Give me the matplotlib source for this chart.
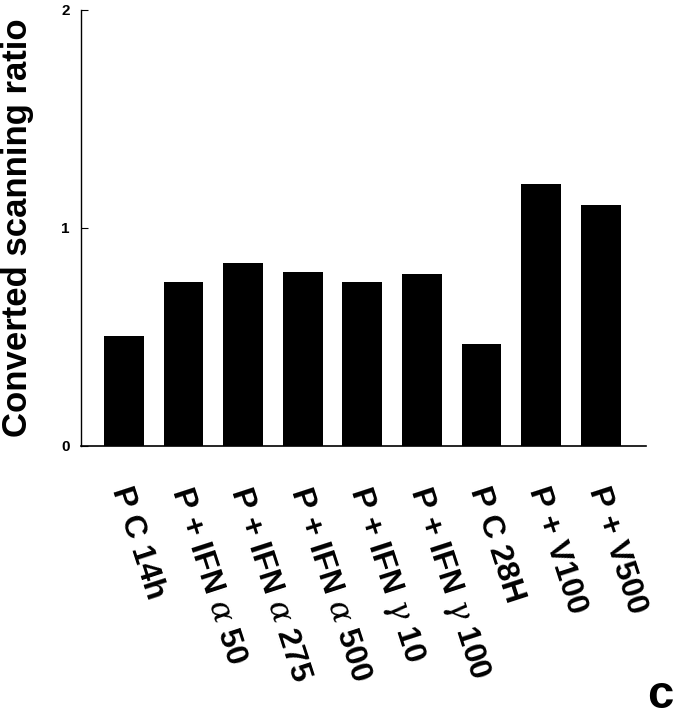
import matplotlib
matplotlib.use('Agg')
import matplotlib.pyplot as plt

# values
labels = ['P C 14h', r'P + IFN $\alpha$ 50', r'P + IFN $\alpha$ 275', r'P + IFN $\alpha$ 500',
          r'P + IFN $\gamma$ 10', r'P + IFN $\gamma$ 100', 'P C 28H', 'P + V100', 'P + V500']
ratio = [0.505, 0.75, 0.84, 0.80, 0.75, 0.79, 0.47, 1.20, 1.105]

plt.rcParams['font.family'] = ['Liberation Sans', 'DejaVu Sans']
plt.rcParams['mathtext.fontset'] = 'dejavuserif'

fig = plt.figure(figsize=(6.84, 7.2), dpi=100)
ax = fig.add_axes([0.1184, 0.3806, 0.826, 0.6056])

x = range(len(ratio))
ax.bar(x, ratio, width=0.67, color='black')

ax.set_xlim(-0.72, 8.76)
ax.set_ylim(0, 2)
ax.spines['top'].set_visible(False)
ax.spines['right'].set_visible(False)
ax.spines['left'].set_linewidth(1.0)
ax.spines['bottom'].set_linewidth(1.2)

ax.set_yticks([0, 1, 2])
ax.set_yticklabels(['0', '1', '2'], fontsize=11, fontweight='bold')
ax.tick_params(axis='y', direction='in', length=5, width=0.8, pad=8)
ax.set_xticks([])

ax.set_ylabel('Converted scanning ratio', fontsize=25, fontweight='bold', labelpad=20)

# rotated category labels under the bars
for i, lab in enumerate(labels):
    ax.annotate(lab, xy=(i, 0), xycoords='data', xytext=(-3, -30),
                textcoords='offset points', rotation=-72, rotation_mode='anchor',
                ha='left', va='center', fontsize=23, fontweight='bold')

fig.text(0.966, 0.034, 'c', fontsize=34, fontweight='bold', ha='center', va='center')

fig.savefig('out.png', dpi=100)
